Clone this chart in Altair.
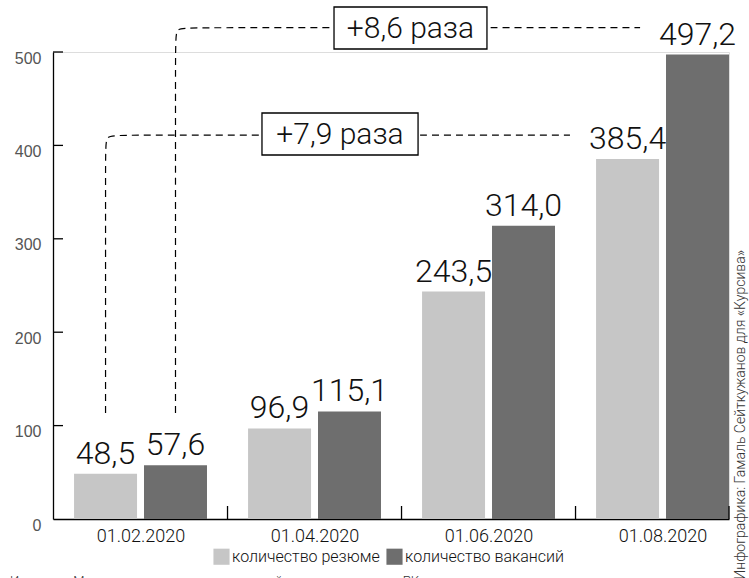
import altair as alt
import pandas as pd

# ---------------- data ----------------
dates = ["01.02.2020", "01.04.2020", "01.06.2020", "01.08.2020"]
resume = [48.5, 96.9, 243.5, 385.4]
vacancies = [57.6, 115.1, 314.0, 497.2]
series_names = ["количество резюме", "количество вакансий"]
series_colors = ["#c6c6c6", "#6e6e6e"]
y_ticks = [0, 100, 200, 300, 400, 500]
ratio_labels = ["+7,9 раза", "+8,6 раза"]
credit = "Инфографика: Гамаль Сейткужанов для «Курсива»"
source = "Источник: Министерство труда и социальной защиты населения РК"

# ---------------- layout (style) ----------------
PAD_L, PAD_T, PAD_R, PAD_B = 53, 52, 20, 59
W, H = 749 - PAD_L - PAD_R, 578 - PAD_T - PAD_B
X_DOMAIN = [-0.503, 3.382]
GAP, BW = 0.02, 0.362            # half gap between paired bars, bar width (x units)
FONT = "Roboto"

rows = []
for i, d in enumerate(dates):
    for s, vals, off in ((series_names[0], resume, -GAP - BW), (series_names[1], vacancies, GAP)):
        rows.append({"i": i, "date": d, "series": s, "value": vals[i],
                     "x0": i + off, "x1": i + off + BW, "xc": i + off + BW / 2})
bars_df = pd.DataFrame(rows)

x_scale = alt.Scale(domain=X_DOMAIN, nice=False, zero=False)
y_scale = alt.Scale(domain=[0, 500], nice=False)
label_expr = "[" + ",".join("'%s'" % d for d in dates) + "][datum.value]"
x_axis = alt.Axis(values=list(range(len(dates))), labelExpr=label_expr, ticks=False,
                  grid=False, title=None, domainColor="#000", domainWidth=1.3,
                  labelFont=FONT, labelFontWeight=300, labelFontSize=18,
                  labelColor="#111", labelPadding=8)
y_axis = alt.Axis(values=y_ticks, ticks=False, grid=False, title=None,
                  domainColor="#000", domainWidth=1.3, labelFont="Liberation Sans",
                  labelFontSize=16, labelColor="#555", labelPadding=12, labelOffset=6)


def X(field):
    return alt.X(field, type="quantitative", scale=x_scale, axis=x_axis)


def Y(field):
    return alt.Y(field, type="quantitative", scale=y_scale, axis=y_axis)


bars = alt.Chart(bars_df).mark_bar().encode(
    x=X("x0"), x2="x1", y=Y("value"), y2=alt.datum(0),
    color=alt.Color("series:N", scale=alt.Scale(domain=series_names, range=series_colors),
                    legend=alt.Legend(title=None, orient="none", legendX=160, legendY=496,
                                      direction="horizontal", symbolType="square",
                                      symbolSize=260, symbolStrokeWidth=0, symbolOpacity=1,
                                      labelFont=FONT, labelFontWeight=300, labelFontSize=16,
                                      labelColor="#111", labelOffset=2, columnPadding=6,
                                      labelLimit=400)),
)

values_text = alt.Chart(bars_df).transform_calculate(
    lbl="replace(format(datum.value, '.1f'), '.', ',')"
).mark_text(font=FONT, fontWeight=300, fontSize=32, baseline="alphabetic", dy=-10,
            color="#111").encode(x=X("xc"), y=Y("value"), text="lbl:N")

# y-axis inner ticks
ytick_df = pd.DataFrame({"v": y_ticks[1:]})
yticks = alt.Chart(ytick_df).mark_rule(color="#000", strokeWidth=1.3).encode(
    y=Y("v"), x=alt.value(0), x2=alt.value(10))

# x-axis inner ticks between groups
xtick_df = pd.DataFrame({"v": [i + 0.5 for i in range(len(dates) - 1)]})
xticks = alt.Chart(xtick_df).mark_rule(color="#000", strokeWidth=1.3).encode(
    x=X("v"), y=alt.value(H), y2=alt.value(H - 13))
xend = alt.Chart(xtick_df.head(1)).mark_rule(color="#000", strokeWidth=1.3).encode(
    x=alt.value(W), y=alt.value(H), y2=alt.value(H - 13))

# connectors (growth annotations)
levels = [411.0, 526.0]          # heights of the horizontal dashed lines
ends = [2.468, 2.871]            # x where the dashed lines stop
starts_x = [bars_df.iloc[0]["xc"], bars_df.iloc[1]["xc"]]
bottom = 113.5
rx, ry = 0.086, 16.0
conn_rows = []
for k in range(2):
    xs = starts_x[k]
    pts = [(xs, bottom), (xs, levels[k] - ry), (xs, levels[k]), (xs + rx, levels[k]), (ends[k], levels[k])]
    for o, (px, py) in enumerate(pts):
        conn_rows.append({"c": k, "o": o, "x": px, "y": py})
conn_df = pd.DataFrame(conn_rows)
connectors = alt.Chart(conn_df).mark_line(interpolate="basis", strokeDash=[7, 5],
                                          color="#000", strokeWidth=1.2).encode(
    x=X("x"), y=Y("y"), detail="c:N", order="o:Q")

box_df = pd.DataFrame({
    "label": ratio_labels,
    "x0": [0.698, 1.112], "x1": [1.595, 1.991],
    "y0": [389.7, 503.2], "y1": [434.7, 548.2],
})
box_df["xc"] = (box_df["x0"] + box_df["x1"]) / 2
box_df["yc"] = (box_df["y0"] + box_df["y1"]) / 2
boxes = alt.Chart(box_df).mark_rect(fill="white", stroke="#000", strokeWidth=1.3).encode(
    x=X("x0"), x2="x1", y=Y("y0"), y2="y1")
box_text = alt.Chart(box_df).mark_text(font=FONT, fontWeight=300, fontSize=30,
                                       baseline="middle", color="#111", dy=1).encode(
    x=X("xc"), y=Y("yc"), text="label:N")

credit_text = alt.Chart(pd.DataFrame({"t": [credit]})).mark_text(
    angle=270, align="right", baseline="middle", font=FONT, fontWeight=300,
    fontSize=14, color="#333").encode(x=alt.value(688), y=alt.value(198), text="t:N")
source_text = alt.Chart(pd.DataFrame({"t": [source]})).mark_text(
    align="left", baseline="alphabetic", font=FONT, fontWeight=300,
    fontSize=13, color="#333").encode(x=alt.value(-43), y=alt.value(533), text="t:N")

chart = alt.layer(
    bars, yticks, xticks, xend, connectors, boxes, box_text, values_text,
    credit_text, source_text,
).properties(
    width=W, height=H,
    autosize=alt.AutoSizeParams(type="none"),
    padding={"left": PAD_L, "top": PAD_T, "right": PAD_R, "bottom": PAD_B},
).configure_view(stroke=None).configure(background="white")

chart.save("out.html", embed_options={"renderer": "svg", "actions": False})
